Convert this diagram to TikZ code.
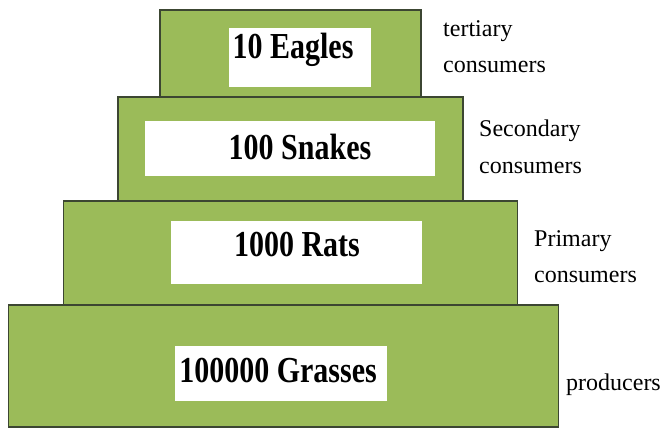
\documentclass[tikz,border=0pt]{standalone}
\usepackage{fontspec}
\setmainfont{Liberation Serif}
\usetikzlibrary{positioning}
\definecolor{grassgreen}{HTML}{9BBB59}
\definecolor{tieredge}{HTML}{3C4632}
\newcommand{\tallname}[1]{\scalebox{1}[1.22]{#1}}

\begin{document}
\begin{tikzpicture}[x=1pt, y=-1pt, tier/.style={rectangle, draw=tieredge, line width=1.5pt, fill=grassgreen, inner sep=0pt, outer sep=0pt}, namebox/.style={rectangle, fill=white, inner sep=0pt}, countlabel/.style={font=\bfseries\fontsize{30}{30}\selectfont, inner sep=0pt}, level/.style={align=left, anchor=base west, font=\fontsize{24}{36}\selectfont, inner sep=0pt}]

  \useasboundingbox (0,0) rectangle (665,428);

  % the four levels of the pyramid
  \node[tier, minimum width=261pt, minimum height=87pt] (tier1) at (290.5,53.5) {};
  \node[tier, minimum width=345pt, minimum height=104pt, below=0pt of tier1] (tier2) {};
  \node[tier, minimum width=454pt, minimum height=104pt, below=0pt of tier2] (tier3) {};
  \node[tier, minimum width=550pt, minimum height=122pt, below=0pt of tier3, xshift=-7pt] (tier4) {};

  % white label boxes
  \node[namebox, minimum width=142pt, minimum height=59pt] (eaglesbox) at (300,57.5) {};
  \node[namebox, minimum width=290pt, minimum height=55pt] (snakesbox) at (290,148.5) {};
  \node[namebox, minimum width=251pt, minimum height=63pt] (ratsbox) at (296.5,252.5) {};
  \node[namebox, minimum width=212pt, minimum height=55pt] (grassesbox) at (281,373.5) {};

  \node[countlabel] (eagles) at (293,50) {\tallname{10 Eagles}};
  \node[countlabel] (snakes) at (300,147) {\tallname{100 Snakes}};
  \node[countlabel] (rats) at (297,245) {\tallname{1000 Rats}};
  \node[countlabel] (grasses) at (278,371) {\tallname{100000 Grasses}};

  % trophic levels
  \node[level] (tertiary) at (443,73) {tertiary\\consumers};
  \node[level] (secondary) at (479,173) {Secondary\\consumers};
  \node[level] (primary) at (534,282) {Primary\\consumers};
  \node[level] (producers) at (566,390) {producers};
\end{tikzpicture}
\end{document}
